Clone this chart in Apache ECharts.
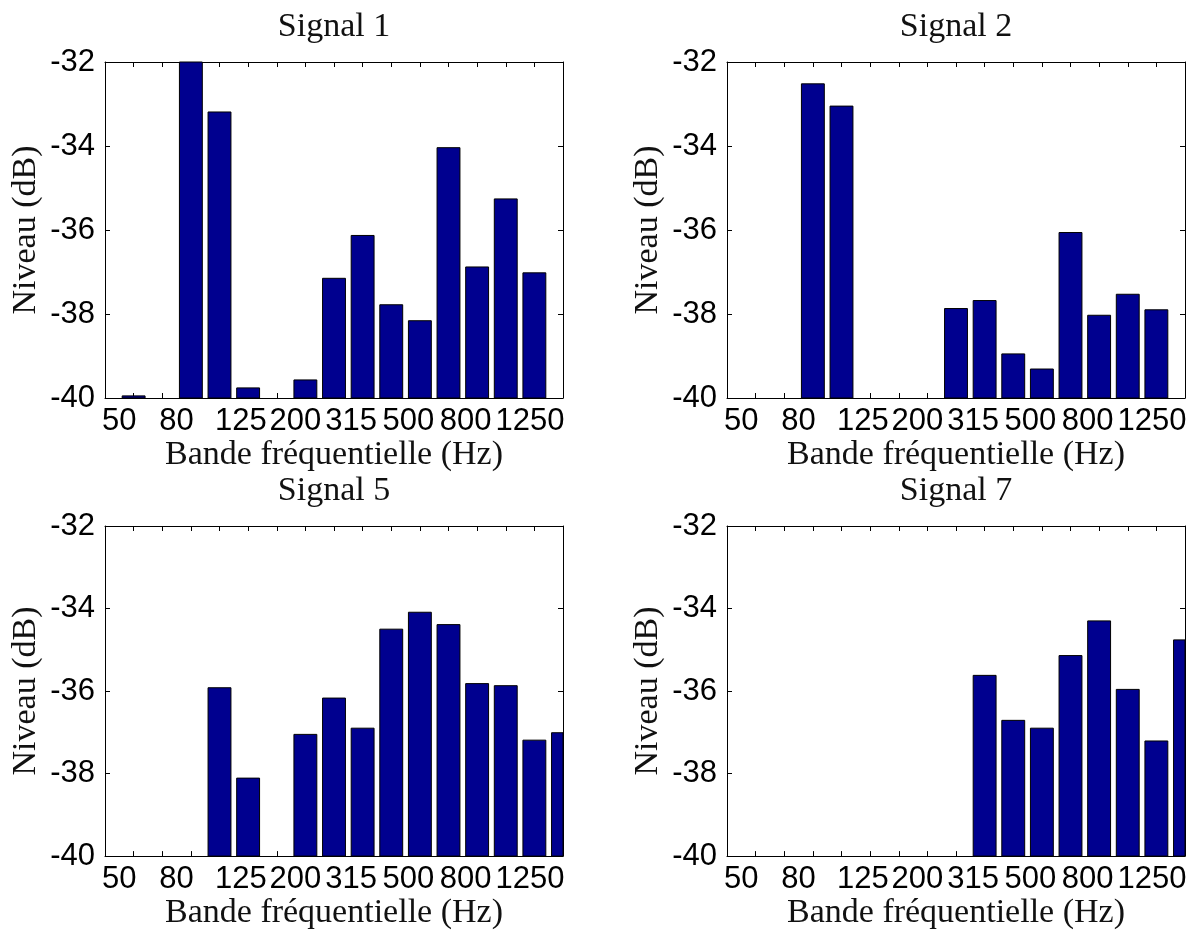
<!DOCTYPE html>
<html>
<head>
<meta charset="utf-8">
<title>Signaux - bandes de tiers d'octave</title>
<script src="https://cdn.jsdelivr.net/npm/echarts@6/dist/echarts.min.js"></script>
<style>
  html, body { margin: 0; padding: 0; background: #fff; }
  #chart { width: 1193px; height: 931px; }
</style>
</head>
<body>
<div id="chart"></div>
<script>
// bandes de tiers d'octave (positions 1..16 sur l'axe)
const bands = ['50', '63', '80', '100', '125', '160', '200', '250', '315', '400', '500', '630', '800', '1000', '1250', '1600']
// etiquettes affichees sous l'axe (une bande sur deux)
const tickLabels = ['50', '80', '125', '200', '315', '500', '800', '1250']
const yTicks = [-40, -38, -36, -34, -32]

// niveaux en dB, null = sous -40 dB (rien de visible)
const signal1 = [-39.95, null, -31.6, -33.19, -39.76, null, -39.57, -37.15, -36.13, -37.78, -38.16, -34.04, -36.88, -35.26, -37.02, null]
const signal2 = [null, null, -32.52, -33.05, null, null, null, -37.87, -37.68, -38.95, -39.31, -36.06, -38.03, -37.53, -37.90, null]
const signal5 = [null, null, null, -35.92, -38.11, null, -37.05, -36.17, -36.90, -34.50, -34.09, -34.39, -35.82, -35.87, -37.19, -37.01]
const signal7 = [null, null, null, null, null, null, null, null, -35.62, -36.71, -36.90, -35.14, -34.30, -35.96, -37.21, -34.76]

const panels = [
  { title: 'Signal 1', data: signal1, left: 105, top: 62 },
  { title: 'Signal 2', data: signal2, left: 727, top: 62 },
  { title: 'Signal 5', data: signal5, left: 105, top: 526 },
  { title: 'Signal 7', data: signal7, left: 727, top: 526 }
]

const gridW = 458
const gridH = 336
const yMin = yTicks[0]
const yMax = yTicks[yTicks.length - 1]
const barWidth = 0.8 // largeur relative des barres (defaut matlab)
// ou tombent les etiquettes de l'axe x (en unites de l'axe)
const labelAt = [0.5, 2.5, 4.75, 6.65, 8.6, 10.6, 12.6, 14.85]
const tickAt = bands.slice(0, 15).map((b, i) => i + 1)

const serif = "'Liberation Serif', 'DejaVu Serif', serif"
const sans = "'Liberation Sans', Arial, sans-serif"
const barColor = '#00008f'

function renderBar(params, api) {
  const v = api.value(1)
  if (v == null || isNaN(v)) return
  const x = api.value(0)
  const top = api.coord([x, v])
  const base = api.coord([x, yMin])
  const w = api.size([barWidth, 0])[0]
  const cs = params.coordSys
  const rect = echarts.graphic.clipRectByRect(
    { x: top[0] - w / 2, y: top[1], width: w, height: base[1] - top[1] },
    { x: cs.x, y: cs.y, width: cs.width, height: cs.height }
  )
  if (!rect) return
  return {
    type: 'rect',
    shape: rect,
    style: { fill: barColor, stroke: '#000', lineWidth: 1 }
  }
}

const option = {
  backgroundColor: '#fff',
  animation: false,
  title: [],
  grid: [],
  xAxis: [],
  yAxis: [],
  series: []
}

panels.forEach((p, i) => {
  option.title.push({
    text: p.title,
    left: p.left + gridW / 2,
    top: p.top - 52,
    textAlign: 'center',
    padding: 0,
    textStyle: { fontFamily: serif, fontSize: 34, fontWeight: 'normal', color: '#111' }
  })
  option.grid.push({ left: p.left, top: p.top, width: gridW, height: gridH })

  const line = { show: true, onZero: false, lineStyle: { color: '#000', width: 1 } }
  const tick = { show: true, inside: true, length: 5, lineStyle: { color: '#000' } }

  // axe du bas, avec etiquettes
  option.xAxis.push({
    type: 'value', gridIndex: i, position: 'bottom',
    min: 0, max: 16,
    name: 'Bande fréquentielle (Hz)', nameLocation: 'middle', nameGap: 34,
    nameTextStyle: { fontFamily: serif, fontSize: 34, color: '#111' },
    axisLine: line,
    axisTick: Object.assign({ customValues: tickAt }, tick),
    axisLabel: {
      customValues: labelAt,
      margin: 8,
      fontFamily: sans, fontSize: 31, color: '#000',
      formatter: val => tickLabels[labelAt.indexOf(val)] || ''
    },
    splitLine: { show: false }
  })
  // axe du haut, juste les graduations
  option.xAxis.push({
    type: 'value', gridIndex: i, position: 'top',
    min: 0, max: 16,
    axisLine: line,
    axisTick: Object.assign({ customValues: tickAt }, tick),
    axisLabel: { show: false },
    splitLine: { show: false }
  })
  option.yAxis.push({
    type: 'value', gridIndex: i, position: 'left',
    min: yMin, max: yMax, interval: 2,
    name: 'Niveau (dB)', nameLocation: 'middle', nameGap: 62,
    nameTextStyle: { fontFamily: serif, fontSize: 34, color: '#111' },
    axisLine: line,
    axisTick: tick,
    axisLabel: { margin: 10, fontFamily: sans, fontSize: 31, color: '#000' },
    splitLine: { show: false }
  })
  option.yAxis.push({
    type: 'value', gridIndex: i, position: 'right',
    min: yMin, max: yMax, interval: 2,
    axisLine: line,
    axisTick: tick,
    axisLabel: { show: false },
    splitLine: { show: false }
  })

  option.series.push({
    type: 'custom',
    name: p.title,
    xAxisIndex: i * 2,
    yAxisIndex: i * 2,
    renderItem: renderBar,
    encode: { x: 0, y: 1 },
    data: p.data.map((v, k) => [k + 1, v])
  })
})

const chart = echarts.init(document.getElementById('chart'))
chart.setOption(option)
</script>
</body>
</html>
